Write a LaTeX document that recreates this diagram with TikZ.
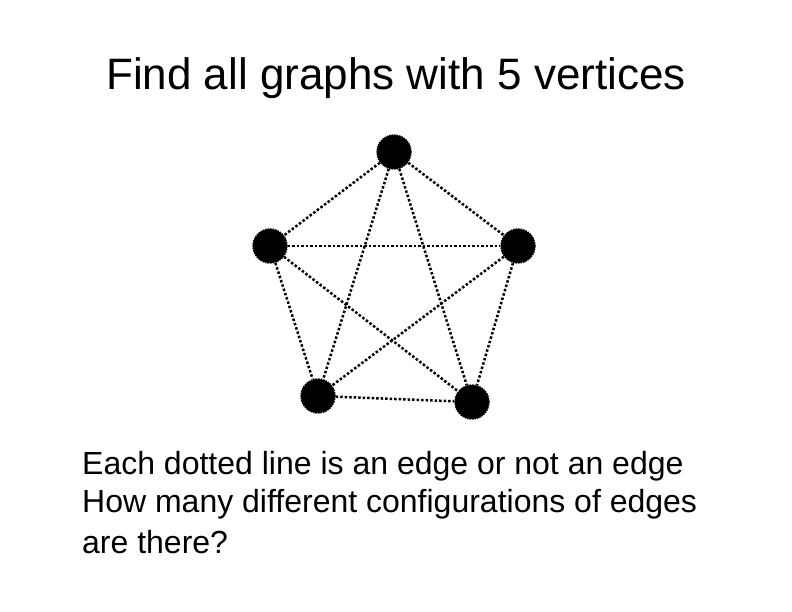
\documentclass[tikz,border=0pt]{standalone}
\usepackage{fontspec}
\setmainfont{Liberation Sans}
\begin{document}
\begin{tikzpicture}[x=1pt,y=-1pt,
  vert/.style={circle,fill=black,draw=black,densely dotted,line width=1.5pt,minimum size=34pt,inner sep=0pt},
  edge/.style={line width=2.5pt,dash pattern=on 2.5pt off 2pt},
  body/.style={font=\fontsize{32}{38}\selectfont,anchor=west,inner sep=0pt}]
\useasboundingbox (0,0) rectangle (792,612);
\node[font=\fontsize{44}{50}\selectfont] (title) at (396,78) {Find all graphs with 5 vertices};
\node[vert] (a) at (394,152) {};
\node[vert] (b) at (270,246) {};
\node[vert] (c) at (518,246) {};
\node[vert] (d) at (318,396) {};
\node[vert] (e) at (472,402) {};
\foreach \u/\v in {a/b,a/c,a/d,a/e,b/c,b/d,b/e,c/d,c/e,d/e} \draw[edge] (\u) -- (\v);
\node[body] (t1) at (82,466) {Each dotted line is an edge or not an edge};
\node[body] (t2) at (82,504) {How many different configurations of edges};
\node[body] (t3) at (82,542) {are there?};
\end{tikzpicture}
\end{document}
